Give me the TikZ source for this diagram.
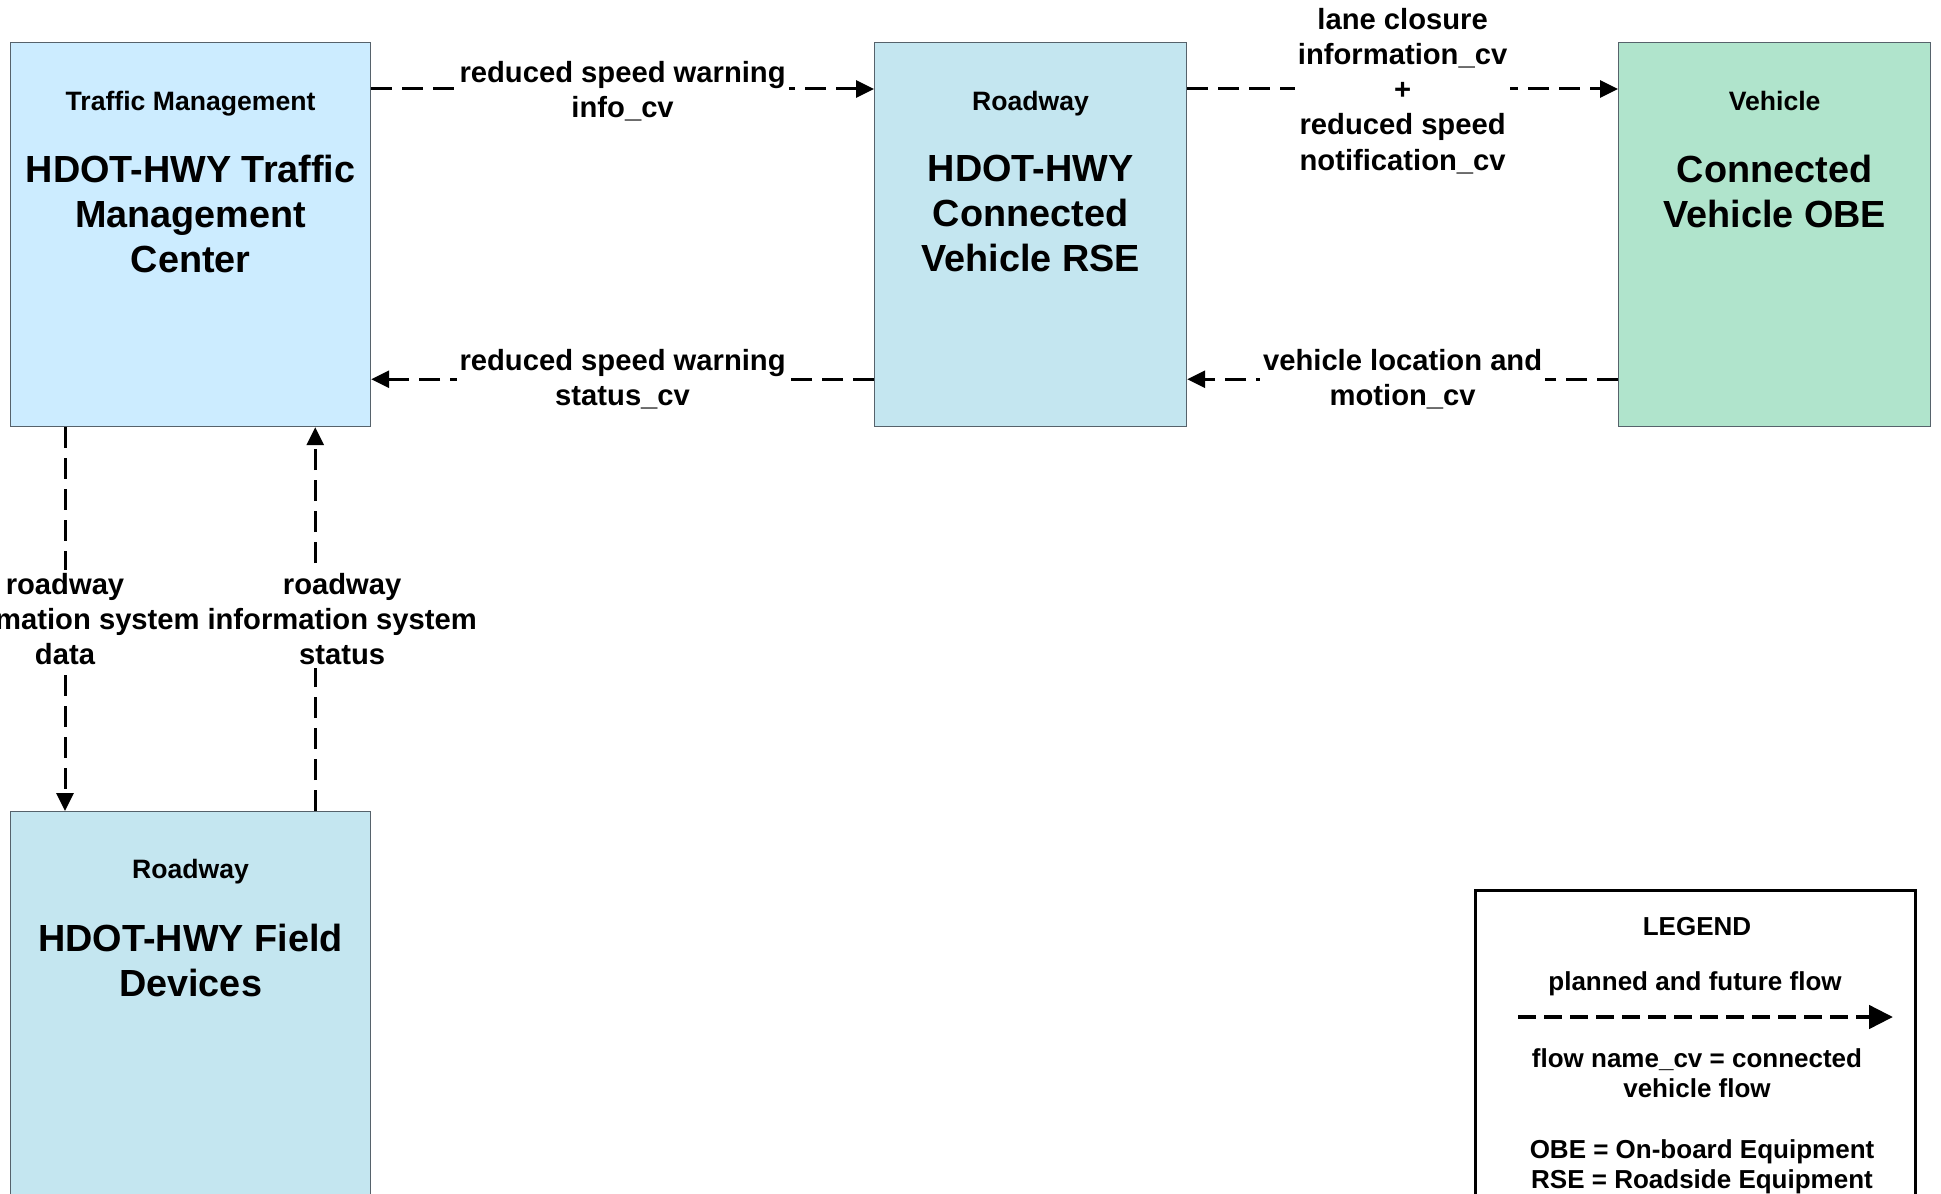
\documentclass[tikz,border=0pt]{standalone}
\usepackage{fontspec}
\setmainfont{Liberation Sans}
\usetikzlibrary{arrows.meta,positioning}
\definecolor{tmcblue}{HTML}{CCECFF}
\definecolor{rseblue}{HTML}{C4E6F0}
\definecolor{obegreen}{HTML}{B0E4CC}
\definecolor{boxline}{HTML}{56626B}
\begin{document}
\begin{tikzpicture}[x=0.5pt,y=-0.5pt,
    sysbox/.style={draw=boxline,line width=0.6pt,inner sep=0pt,anchor=north west},
    systype/.style={font=\fontsize{13.3}{16}\selectfont\bfseries,anchor=base,inner sep=0pt},
    systitle/.style={font=\fontsize{18.9}{22.5}\selectfont\bfseries,align=center,anchor=north,inner sep=0pt},
    flow/.style={line width=1.5pt,dash pattern=on 10.5pt off 5pt,-{Triangle[length=9pt,width=8.5pt]}},
    flowlabel/.style={font=\fontsize{14.6}{17.6}\selectfont\bfseries,align=center,fill=white,inner sep=1.5pt},
    legendtext/.style={font=\fontsize{13}{15}\selectfont\bfseries,align=center,inner sep=0pt}]
    \path[use as bounding box,fill=white] (0,0) rectangle (1941,1193);

    % Systems %
    \node[sysbox,fill=tmcblue,minimum width=180pt,minimum height=192pt] (tmc) at (10,42) {};
    \node[systype] (tmc-type) at ([yshift=-34.3pt]tmc.north) {Traffic Management};
    \node[systitle] (tmc-name) at ([yshift=-56.5pt]tmc.north) {HDOT-HWY Traffic\\Management\\Center};

    \node[sysbox,fill=rseblue,minimum width=156pt,minimum height=192pt] (rse) at (874,42) {};
    \node[systype] (rse-type) at ([yshift=-34.3pt]rse.north) {Roadway};
    \node[systitle] (rse-name) at ([yshift=-56.5pt]rse.north) {HDOT-HWY\\Connected\\Vehicle RSE};

    \node[sysbox,fill=obegreen,minimum width=156pt,minimum height=192pt] (obe) at (1618,42) {};
    \node[systype] (obe-type) at ([yshift=-34.3pt]obe.north) {Vehicle};
    \node[systitle] (obe-name) at ([yshift=-56.5pt]obe.north) {Connected\\Vehicle OBE};

    \node[sysbox,fill=rseblue,minimum width=180pt,minimum height=215pt] (fld) at (10,811) {};
    \node[systype] (fld-type) at ([yshift=-33.5pt]fld.north) {Roadway};
    \node[systitle] (fld-name) at ([yshift=-56.5pt]fld.north) {HDOT-HWY Field\\Devices};

    % Flows %
    \draw[flow] ([yshift=-23.5pt]tmc.north east) -- node[flowlabel,yshift=-1pt] {reduced speed warning\\info\_cv} ([yshift=-23.5pt]rse.north west);
    \draw[flow] ([yshift=-23.5pt]rse.north east) -- node[flowlabel,yshift=-1pt] {lane closure\\information\_cv\\+\\reduced speed\\notification\_cv} ([yshift=-23.5pt]obe.north west);
    \draw[flow] ([yshift=24pt]rse.south west) -- node[flowlabel] {reduced speed warning\\status\_cv} ([yshift=24pt]tmc.south east);
    \draw[flow] ([yshift=24pt]obe.south west) -- node[flowlabel] {vehicle location and\\motion\_cv} ([yshift=24pt]rse.south east);
    \draw[flow] ([xshift=27.5pt]tmc.south west) -- node[flowlabel] {roadway\\information system\\data} ([xshift=27.5pt]fld.north west);
    \draw[flow] ([xshift=-28pt]fld.north east) -- node[flowlabel,xshift=13.5pt] {roadway\\information system\\status} ([xshift=-28pt]tmc.south east);

    % Legend %
    \node[draw,line width=1.3pt,inner sep=0pt,anchor=north west,minimum width=220pt,minimum height=170pt] (legend) at (1474,889) {};
    \node[legendtext] (lg-title) at (1697,927) {LEGEND};
    \node[legendtext] (lg-planned) at (1695,984) {planned and future flow};
    \coordinate (lg-start) at (1518,1017);
    \coordinate (lg-end) at (1893,1017);
    \draw[line width=2.3pt,dash pattern=on 9pt off 4pt,-{Triangle[length=12pt,width=11.5pt]}] (lg-start) -- (lg-end);
    \node[legendtext] (lg-cv) at (1697,1073) {flow name\_cv = connected\\vehicle flow};
    \node[legendtext] (lg-abbr) at (1702,1167) {OBE = On-board Equipment\\RSE = Roadside Equipment};
\end{tikzpicture}
\end{document}
